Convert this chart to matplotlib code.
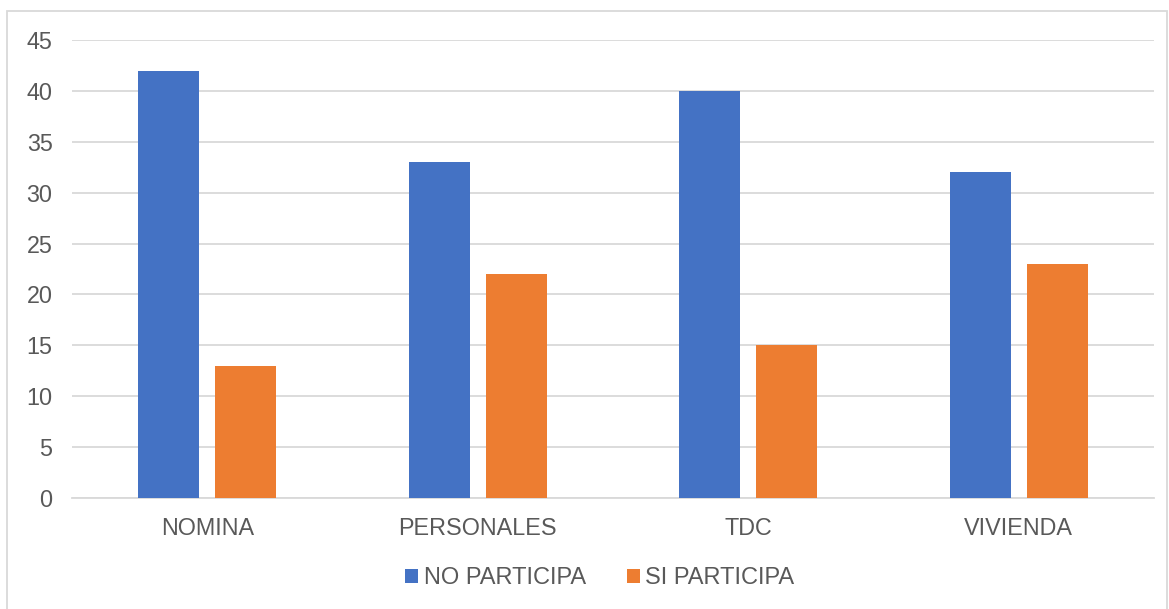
import numpy as np
import matplotlib.pyplot as plt
from matplotlib.patches import Rectangle

plt.rcParams['font.family'] = ['Liberation Sans', 'DejaVu Sans']

categories = ["NOMINA", "PERSONALES", "TDC", "VIVIENDA"]
no_participa = [42, 33, 40, 32]
si_participa = [13, 22, 15, 23]
yticks = [0, 5, 10, 15, 20, 25, 30, 35, 40, 45]

text_color = "#595959"
grid_color = "#d9d9d9"

fig = plt.figure(figsize=(11.69, 6.09), dpi=100)
ax = fig.add_axes([72/1169, 1 - 498/609, (1154 - 72)/1169, (498 - 40)/609])

x = np.arange(len(categories))
w = 0.2255
off = 0.1423
ax.bar(x - off, no_participa, w, color="#4472C4", label="NO PARTICIPA", zorder=3)
ax.bar(x + off, si_participa, w, color="#ED7D31", label="SI PARTICIPA", zorder=3)

ax.set_xlim(-0.5, len(categories) - 0.5)
ax.set_ylim(0, 45)
ax.set_yticks(yticks)
ax.set_xticks(x)
ax.set_xticklabels(categories)
ax.yaxis.grid(True, color=grid_color, linewidth=1.3, zorder=0)
ax.set_axisbelow(True)
for s in ["top", "right", "left"]:
    ax.spines[s].set_visible(False)
ax.spines["bottom"].set_color(grid_color)
ax.spines["bottom"].set_linewidth(1.3)
ax.tick_params(axis="both", length=0, labelsize=16.8, colors=text_color)
ax.tick_params(axis="y", pad=14)
ax.tick_params(axis="x", pad=14)

fig.legend(loc="center", bbox_to_anchor=(600/1169, 1 - 578/609), ncol=2,
           frameon=False, fontsize=17, labelcolor=text_color,
           handlelength=0.55, handleheight=0.55, handletextpad=0.25,
           columnspacing=1.7)

# light outer frame like the spreadsheet chart area
fig.patches.append(Rectangle((7/1169, -0.01), (1167 - 7)/1169, 1 - 11/609 + 0.01,
                             transform=fig.transFigure, fill=False,
                             edgecolor=grid_color, linewidth=1.3))

fig.savefig("out.png", dpi=100)
